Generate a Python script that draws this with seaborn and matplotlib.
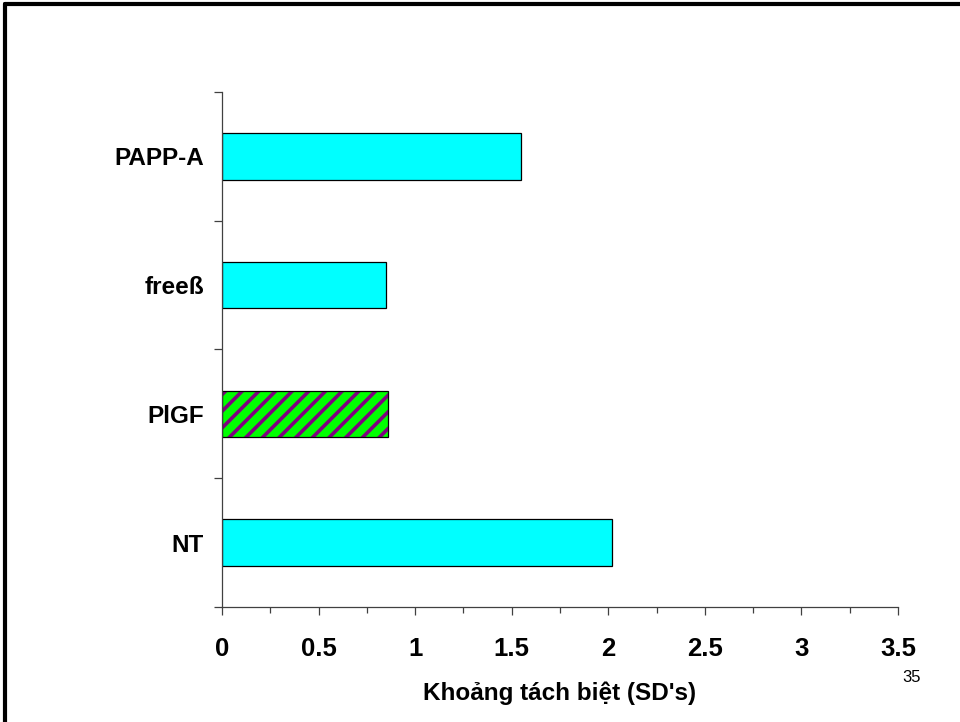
import numpy as np
import pandas as pd
import seaborn as sns
import matplotlib.pyplot as plt
from matplotlib.colors import to_rgba
from matplotlib.ticker import MultipleLocator, FixedLocator

# marker separation values, top to bottom
markers = ['PAPP-A', 'freeß', 'PlGF', 'NT']
separation = [1.55, 0.85, 0.86, 2.02]
bar_fill = ['#00FFFF', '#00FFFF', '#00FF00', '#00FFFF']
hatched = 'PlGF'

xticks = [0, 0.5, 1, 1.5, 2, 2.5, 3, 3.5]
xtick_labels = ['0', '0.5', '1', '1.5', '2', '2.5', '3', '3.5']
x_label = "Khoảng tách biệt (SD's)"
page_no = '35'

df = pd.DataFrame({'marker': markers, 'sd': separation})

sns.set_style('white')
plt.rcParams['font.family'] = ['Liberation Sans', 'DejaVu Sans']
plt.rcParams['text.color'] = 'black'
plt.rcParams['xtick.labelcolor'] = 'black'
plt.rcParams['ytick.labelcolor'] = 'black'
plt.rcParams['axes.labelcolor'] = 'black'
plt.rcParams['hatch.linewidth'] = 2.6

fig = plt.figure(figsize=(9.6, 7.22), dpi=100)
ax = fig.add_axes([0.23125, 0.1593, 0.7042, 0.7133])

sns.barplot(data=df, x='sd', y='marker', hue='marker', palette=bar_fill,
    order=markers, orient='h', width=0.36, edgecolor='black', linewidth=0.9,
    saturation=1, legend=False, ax=ax)

# striped bar (green with purple diagonal stripes)
for patch, name in zip(ax.patches, markers):
    if name == hatched:
        patch.set_hatch('//')
        if hasattr(patch, 'set_hatchcolor'):
            patch.set_hatchcolor('#800080')
        else:
            patch._hatch_color = to_rgba('#800080')

ax.set_xlim(0, 3.5)
ax.set_ylim(3.5, -0.5)

ax.set_xticks(xticks)
ax.set_xticklabels(xtick_labels, fontsize=18.5, fontweight='bold')
ax.xaxis.set_minor_locator(MultipleLocator(0.25))
ax.tick_params(axis='x', which='major', direction='out', length=5.5, width=0.9,
    color='#404040', pad=16, bottom=True)
ax.tick_params(axis='x', which='minor', direction='out', length=4.5, width=0.9,
    color='#404040', bottom=True)

# category labels centred on bars, ticks between categories
ax.set_yticks(range(len(markers)))
ax.set_yticklabels(markers, fontsize=17.5, fontweight='bold')
ax.yaxis.set_minor_locator(FixedLocator(np.arange(-0.5, len(markers), 1)))
ax.tick_params(axis='y', which='major', length=0, pad=13)
ax.tick_params(axis='y', which='minor', direction='out', length=5.5, width=0.9,
    color='#404040', left=True)

ax.set_xlabel(x_label, fontsize=17.5, fontweight='bold', labelpad=15)
ax.set_ylabel('')

for side in ['top', 'right']:
    ax.spines[side].set_visible(False)
for side in ['left', 'bottom']:
    ax.spines[side].set_color('#404040')
    ax.spines[side].set_linewidth(0.9)

fig.text(0.95, 0.061, page_no, fontsize=12, ha='center', va='center')

# slide frame (top and left edges)
frame_kw = dict(color='black', linewidth=3, transform=fig.transFigure)
fig.add_artist(plt.Line2D([0.0055, 0.0055], [0, 0.994], **frame_kw))
fig.add_artist(plt.Line2D([0.0055, 1.0], [0.994, 0.994], **frame_kw))

fig.savefig('out.png', dpi=100)
